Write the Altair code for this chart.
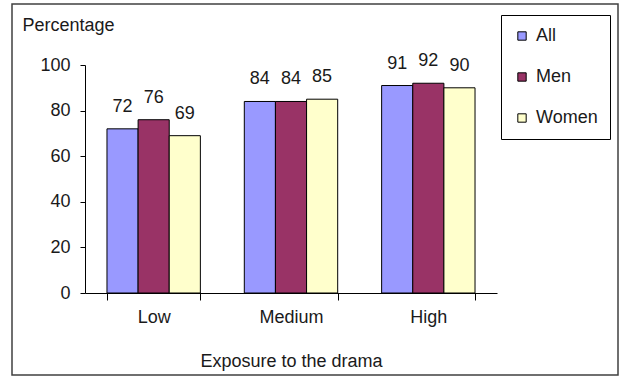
import altair as alt
import pandas as pd

# Share of respondents by exposure level and group
exposure = ["Low", "Medium", "High"]
groups = ["All", "Men", "Women"]
all_vals = [72, 84, 91]
men_vals = [76, 84, 92]
women_vals = [69, 85, 90]
colors = ["#9999FF", "#993366", "#FFFFCC"]

rows = []
for i, lvl in enumerate(exposure):
    for g, vals in zip(groups, [all_vals, men_vals, women_vals]):
        rows.append({"exposure": lvl, "group": g, "value": vals[i]})
df = pd.DataFrame(rows)

FONT = "Liberation Sans"
W, H = 412, 228

x_enc = alt.X(
    "exposure:N",
    sort=exposure,
    scale=alt.Scale(paddingInner=0.32, paddingOuter=0.16),
    axis=alt.Axis(
        title="Exposure to the drama",
        labelAngle=0,
        tickBand="extent",
        tickSize=7,
        labelPadding=8,
        titlePadding=26,
    ),
)
xoff = alt.XOffset("group:N", sort=groups, scale=alt.Scale(paddingInner=0, paddingOuter=0))
y_enc = alt.Y(
    "value:Q",
    scale=alt.Scale(domain=[0, 100], nice=False),
    axis=alt.Axis(
        title="Percentage",
        values=[0, 20, 40, 60, 80, 100],
        tickSize=5,
        labelPadding=10,
        grid=False,
        titleAngle=0,
        titleAlign="left",
        titleBaseline="middle",
        titleX=-63,
        titleY=-40,
    ),
)

base = alt.Chart(df)

bars = base.mark_bar(stroke="black", strokeWidth=1).encode(
    x=x_enc,
    xOffset=xoff,
    y=y_enc,
    color=alt.Color(
        "group:N",
        sort=groups,
        scale=alt.Scale(domain=groups, range=colors),
        legend=alt.Legend(
            title=None,
            orient="none",
            legendX=416,
            legendY=-50,
            symbolType="square",
            symbolSize=70,
            symbolStrokeColor="black",
            symbolStrokeWidth=1,
            labelOffset=5,
            rowPadding=23,
            padding=12,
            strokeColor="black",
            fillColor="white",
        ),
    ),
)

labels = base.mark_text(baseline="middle", dy=-22, fontSize=18, font=FONT, color="#1a1a1a").encode(
    x=alt.X("exposure:N", sort=exposure),
    xOffset=alt.XOffset("group:N", sort=groups),
    y=alt.Y("value:Q"),
    text=alt.Text("value:Q"),
)

# Outer border around the whole figure
frame = alt.Chart(alt.Data(values=[{}])).mark_rect(
    fill=None, stroke="#404040", strokeWidth=1.5
).encode(
    x=alt.value(-73), x2=alt.value(533), y=alt.value(-61), y2=alt.value(310)
)

chart = (
    alt.layer(frame, bars, labels)
    .properties(
        width=W,
        height=H,
        autosize=alt.AutoSizeParams(type="none"),
        padding={"left": 85, "top": 65, "right": 122, "bottom": 83},
        background="white",
    )
    .configure_view(stroke=None)
    .configure_axis(
        labelFont=FONT,
        titleFont=FONT,
        labelFontSize=18,
        titleFontSize=18,
        titleFontWeight="normal",
        labelColor="#1a1a1a",
        titleColor="#1a1a1a",
        domainColor="black",
        tickColor="black",
        domainWidth=1,
        tickWidth=1,
    )
    .configure_legend(labelFont=FONT, labelFontSize=18, labelColor="#1a1a1a")
)

chart.save("out.html", embed_options={"renderer": "svg", "actions": False})
